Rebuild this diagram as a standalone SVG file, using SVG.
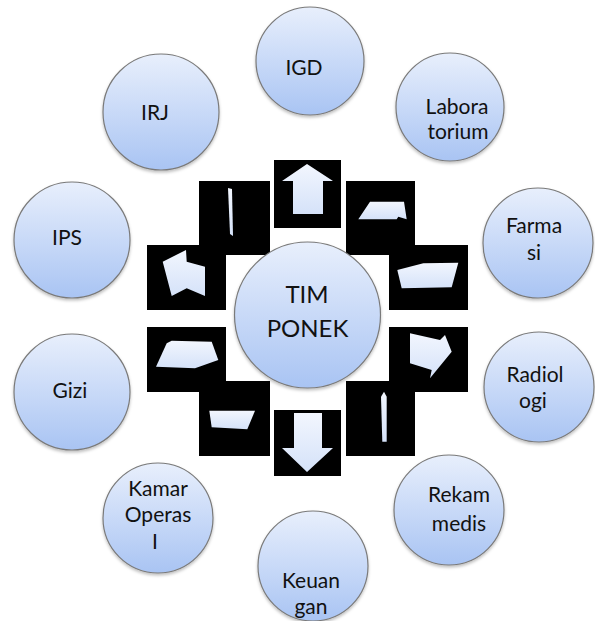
<svg xmlns="http://www.w3.org/2000/svg" width="595" height="621" viewBox="0 0 595 621">
<defs>
<linearGradient id="bub" x1="0" y1="0" x2="0" y2="1">
<stop offset="0" stop-color="#e8effc"/>
<stop offset="1" stop-color="#a9c4f3"/>
</linearGradient>
<linearGradient id="arr" x1="0" y1="0" x2="0" y2="1">
<stop offset="0" stop-color="#f2f6fe"/>
<stop offset="1" stop-color="#d5e2f9"/>
</linearGradient>
<filter id="sh" x="-20%" y="-20%" width="140%" height="140%">
<feDropShadow dx="0" dy="2" stdDeviation="1.5" flood-color="#000" flood-opacity="0.25"/>
</filter>
<style>
.c{fill:url(#bub);stroke:#7a7a7a;stroke-width:1.2;filter:url(#sh)}
.t{font-family:Lato,"Open Sans",sans-serif;font-size:21px;fill:#111;text-anchor:middle}
.tc{font-family:Lato,"Open Sans",sans-serif;font-size:24px;fill:#111;text-anchor:middle}
.box{fill:#000}
.a{fill:url(#arr)}
</style>
</defs>
<rect width="595" height="621" fill="#fff"/>
<g id="connectors">
<rect class="box" x="274" y="160" width="67" height="68"/>
<polygon class="a" points="307,164 333,181 323,181 323,214 293,214 293,181 282,181"/>
<rect class="box" x="199" y="181" width="71" height="74"/>
<polygon class="a" points="228,188 232,189 233,236 230,234"/>
<rect class="box" x="346" y="181" width="69" height="74"/>
<polygon class="a" points="358.3,219.3 370,201.7 404,201.7 406.7,219.3 398.3,216.7 396.7,219.3"/>
<rect class="box" x="147" y="245" width="79" height="65"/>
<polygon class="a" points="186,250 162.7,261.7 171.7,296 186.7,288.3 205,296 205,266.7 186.7,261.7"/>
<rect class="box" x="389" y="245" width="79" height="65"/>
<polygon class="a" points="397.3,270 423.3,263.3 458.3,262.7 451.7,287.3 401.7,288.3"/>
<rect class="box" x="147" y="327" width="79" height="65"/>
<polygon class="a" points="166.7,343.3 171.7,340.7 211.7,341.7 218.3,360 195,368.3 156,366.7"/>
<rect class="box" x="389" y="327" width="79" height="65"/>
<polygon class="a" points="410,333.3 440,340 445,335 451.7,351.7 430,378.3 431.7,370 410,363.3"/>
<rect class="box" x="199" y="381" width="71" height="75"/>
<polygon class="a" points="209.3,410.7 255,410.7 247.3,429.3 211.7,427.3"/>
<rect class="box" x="346" y="381" width="69" height="75"/>
<polygon class="a" points="381,396.7 384,391.7 386.7,396.7 386.7,441.7 382.3,441.7"/>
<rect class="box" x="274" y="410" width="67" height="66"/>
<polygon class="a" points="294,413 322,413 322,448 333,448 307,472 282,448 294,448"/>
</g>
<g id="node-igd"><circle class="c" cx="310" cy="61" r="54"/><text class="t" x="304" y="75">IGD</text></g>
<g id="node-lab"><circle class="c" cx="450" cy="107" r="54"/><text class="t" x="457" y="114">Labora</text><text class="t" x="458" y="139">torium</text></g>
<g id="node-farmasi"><circle class="c" cx="538" cy="243" r="55"/><text class="t" x="534" y="233">Farma</text><text class="t" x="534" y="260">si</text></g>
<g id="node-radiologi"><circle class="c" cx="539" cy="387" r="55"/><text class="t" x="535" y="382">Radiol</text><text class="t" x="533" y="408">ogi</text></g>
<g id="node-rekam"><circle class="c" cx="449" cy="510" r="55"/><text class="t" x="459" y="502">Rekam</text><text class="t" x="459" y="531">medis</text></g>
<g id="node-keuangan"><circle class="c" cx="313" cy="566" r="55"/><text class="t" x="311" y="588">Keuan</text><text class="t" x="311" y="614">gan</text></g>
<g id="node-kamar"><circle class="c" cx="158" cy="518" r="55"/><text class="t" x="158" y="496">Kamar</text><text class="t" x="158" y="522">Operas</text><text class="t" x="155" y="549">I</text></g>
<g id="node-gizi"><circle class="c" cx="72" cy="392" r="58"/><text class="t" x="70" y="398">Gizi</text></g>
<g id="node-ips"><circle class="c" cx="72" cy="240" r="58"/><text class="t" x="67" y="245">IPS</text></g>
<g id="node-irj"><circle class="c" cx="161" cy="112" r="58"/><text class="t" x="155" y="120">IRJ</text></g>
<g id="node-tim"><circle class="c" cx="307.5" cy="315" r="73"/><text class="tc" x="307" y="303">TIM</text><text class="tc" x="307.5" y="337">PONEK</text></g>
</svg>
